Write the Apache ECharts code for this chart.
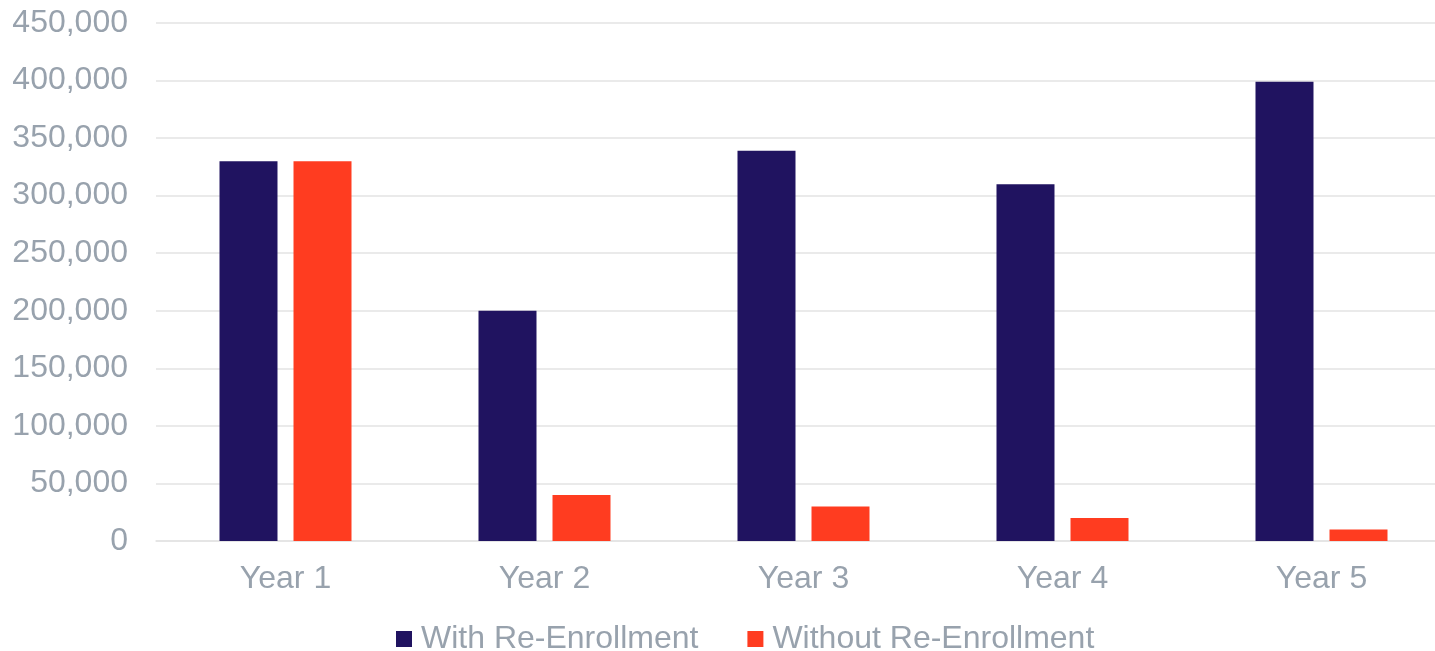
<!DOCTYPE html>
<html>
<head>
<meta charset="utf-8">
<script src="https://cdn.jsdelivr.net/npm/echarts@6/dist/echarts.min.js"></script>
<style>html,body{margin:0;padding:0;background:#fff;}#c{width:1435px;height:651px;}</style>
</head>
<body>
<div id="c"></div>
<script>
const categories = ['Year 1', 'Year 2', 'Year 3', 'Year 4', 'Year 5'];
const withReEnrollment = [330000, 200000, 339000, 310000, 399000];
const withoutReEnrollment = [330000, 40000, 30000, 20000, 10000];
const seriesNames = ['With Re-Enrollment', 'Without Re-Enrollment'];

const labelColor = '#98a2ad';
const font = 'Liberation Sans, Arial, sans-serif';
const chart = echarts.init(document.getElementById('c'), null, {renderer: 'canvas'});
chart.setOption({
  animation: false,
  color: ['#201360', '#ff3c20'],
  grid: {left: 156, width: 1295, top: 23, bottom: 110, containLabel: false, outerBoundsMode: 'none'},
  legend: {
    left: 396, top: 623, padding: 0,
    itemWidth: 16, itemHeight: 16, itemGap: 49,
    icon: 'rect',
    textStyle: {color: labelColor, fontSize: 32, fontFamily: font, padding: [0, 0, 0, 4]},
    data: seriesNames
  },
  xAxis: {
    type: 'category',
    data: categories,
    axisLine: {lineStyle: {color: '#e3e3e3', width: 1.5}},
    axisTick: {show: false},
    axisLabel: {color: labelColor, fontSize: 32, fontFamily: font, margin: 22}
  },
  yAxis: {
    type: 'value',
    min: 0, max: 450000, interval: 50000,
    axisLine: {show: false},
    axisTick: {show: false},
    splitLine: {lineStyle: {color: '#e3e3e3', width: 1.5}},
    axisLabel: {
      color: labelColor, fontSize: 32, fontFamily: font, margin: 28,
      formatter: v => v.toLocaleString('en-US')
    }
  },
  series: [
    {name: seriesNames[0], type: 'bar', data: withReEnrollment, barWidth: 58, barGap: '27.6%'},
    {name: seriesNames[1], type: 'bar', data: withoutReEnrollment, barWidth: 58, barGap: '27.6%'}
  ]
});
</script>
</body>
</html>
